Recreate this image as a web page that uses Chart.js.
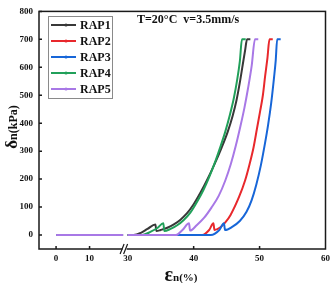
<!DOCTYPE html>
<html>
<head>
<meta charset="utf-8">
<script src="https://cdn.jsdelivr.net/npm/chart.js@4/dist/chart.umd.min.js"></script>
<style>
  body { margin: 0; background: #fff; }
</style>
</head>
<body>
<canvas id="chart" width="334" height="283"></canvas>
<script>
const seriesNames = ['RAP1', 'RAP2', 'RAP3', 'RAP4', 'RAP5'];
const seriesColors = ['#383838', '#e8282c', '#1766d8', '#21a05a', '#a878e6'];

// part of the curves left of the axis break (all at zero)
const leftStrain = [0, 20];
const leftStress = [0, 0];

const strainRAP1 = [30, 30.9, 32, 33, 34.2, 34.35, 35, 36, 37, 38, 39, 40, 41, 42, 43.1, 44.2, 45.15, 45.9, 46.5, 47.0, 47.45, 47.8, 48.1, 48.6];
const stressRAP1 = [0, 0, 8, 22, 38, 14, 18, 26, 38, 55, 78, 110, 150, 195, 250, 310, 368, 425, 482, 545, 610, 660, 700, 700];

const strainRAP2 = [30, 41.3, 42.35, 43.0, 43.15, 44.0, 44.8, 45.6, 46.9, 47.8, 48.5, 49.1, 49.6, 50.1, 50.5, 50.85, 51.2, 51.5, 52.0];
const stressRAP2 = [0, 0, 18, 42, 18, 27, 45, 72, 137, 195, 255, 315, 380, 445, 500, 570, 635, 700, 700];

const strainRAP3 = [30, 42.6, 43.9, 44.6, 44.75, 45.9, 47.0, 48.0, 48.8, 49.5, 50.2, 50.8, 51.3, 51.75, 52.2, 52.45, 52.67, 53.2];
const stressRAP3 = [0, 0, 18, 42, 18, 30, 50, 82, 125, 180, 250, 325, 395, 470, 565, 625, 700, 700];

const strainRAP4 = [30, 32.2, 33.5, 34.5, 35.4, 35.55, 36.5, 37.5, 38.5, 39.5, 40.5, 41.5, 42.4, 43.2, 44.0, 44.8, 45.5, 46.1, 46.6, 47.0, 47.33, 47.9];
const stressRAP4 = [0, 0, 12, 25, 42, 14, 22, 35, 54, 80, 118, 162, 210, 258, 312, 370, 430, 490, 555, 620, 700, 700];

const strainRAP5 = [30, 37.3, 38.3, 39.3, 39.45, 40.5, 41.6, 42.7, 43.8, 44.8, 45.65, 46.4, 47.1, 47.7, 48.25, 48.8, 49.3, 49.8];
const stressRAP5 = [0, 0, 18, 42, 16, 36, 62, 98, 140, 195, 255, 320, 390, 455, 525, 605, 700, 700];

const strains = [strainRAP1, strainRAP2, strainRAP3, strainRAP4, strainRAP5];
const stresses = [stressRAP1, stressRAP2, stressRAP3, stressRAP4, stressRAP5];

const xTickLabels = [0, 10, 30, 40, 50, 60];
const yTicks = [0, 100, 200, 300, 400, 500, 600, 700, 800];

// broken x axis: 0..20 is drawn compressed, 30..60 at full scale
function toAxis(v) {
  return v >= 25 ? v : 19.13 + v * 0.508;
}

const datasets = seriesNames.map((name, i) => {
  const pts = leftStrain.map((s, k) => ({ x: toAxis(s), y: leftStress[k] }));
  pts.push({ x: 29.6, y: null });
  strains[i].forEach((s, k) => pts.push({ x: toAxis(s), y: stresses[i][k] }));
  return {
    label: name,
    data: pts,
    borderColor: seriesColors[i],
    borderWidth: 2,
    pointRadius: 0,
    cubicInterpolationMode: 'monotone',
    spanGaps: false,
    order: 5 - i
  };
});

const serif = '"Liberation Serif", "DejaVu Serif", serif';

const decor = {
  id: 'decor',
  afterDraw(chart) {
    const ctx = chart.ctx;
    const a = chart.chartArea;
    const xs = chart.scales.x;
    const ys = chart.scales.y;
    ctx.save();
    ctx.strokeStyle = '#1a1a1a';
    ctx.lineWidth = 1.5;
    ctx.strokeRect(a.left, a.top, a.right - a.left, a.bottom - a.top);

    // inward ticks
    ctx.beginPath();
    yTicks.forEach(v => {
      const p = ys.getPixelForValue(v);
      ctx.moveTo(a.left, p);
      ctx.lineTo(a.left + 3, p);
    });
    xTickLabels.forEach(v => {
      if (v === 30 || v === 60) return;
      const p = xs.getPixelForValue(toAxis(v));
      ctx.moveTo(p, a.bottom);
      ctx.lineTo(p, a.bottom - 3);
    });
    ctx.stroke();

    // axis break mark
    const bx = xs.getPixelForValue(29.6);
    ctx.fillStyle = '#fff';
    ctx.fillRect(bx - 2.5, a.bottom - 1.5, 4, 3);
    ctx.lineWidth = 1.2;
    ctx.beginPath();
    ctx.moveTo(bx - 5, a.bottom + 5);
    ctx.lineTo(bx - 1, a.bottom - 5);
    ctx.moveTo(bx - 1.5, a.bottom + 5);
    ctx.lineTo(bx + 2.5, a.bottom - 5);
    ctx.stroke();

    // legend
    ctx.strokeStyle = '#8a8a8a';
    ctx.lineWidth = 1;
    ctx.strokeRect(48.5, 16.5, 64, 82);
    ctx.font = 'bold 12px ' + serif;
    ctx.textBaseline = 'middle';
    ctx.textAlign = 'left';
    seriesNames.forEach((name, i) => {
      const ly = 25 + i * 16;
      ctx.strokeStyle = seriesColors[i];
      ctx.lineWidth = 2;
      ctx.beginPath();
      ctx.moveTo(51, ly);
      ctx.lineTo(76, ly);
      ctx.stroke();
      ctx.fillStyle = seriesColors[i];
      ctx.beginPath();
      ctx.arc(66, ly, 1.6, 0, Math.PI * 2);
      ctx.fill();
      ctx.fillStyle = '#111';
      ctx.fillText(name, 80, ly + 0.5);
    });

    // test condition note
    ctx.fillStyle = '#111';
    ctx.font = 'bold 12px ' + serif;
    ctx.fillText('T=20°C  v=3.5mm/s', 137, 20);

    // x title
    ctx.textBaseline = 'alphabetic';
    ctx.font = 'bold 20px ' + serif;
    const eW = ctx.measureText('ε').width;
    ctx.font = 'bold 11px ' + serif;
    const nW = ctx.measureText('n(%)').width;
    let tx = 181 - (eW + nW) / 2;
    ctx.font = 'bold 20px ' + serif;
    ctx.fillText('ε', tx, 281);
    ctx.font = 'bold 11px ' + serif;
    ctx.fillText('n(%)', tx + eW, 281);

    // y title
    ctx.translate(13, 127);
    ctx.rotate(-Math.PI / 2);
    ctx.font = 'bold 17px ' + serif;
    const dW = ctx.measureText('δ').width;
    ctx.font = 'bold 12px ' + serif;
    const kW = ctx.measureText('n(kPa)').width;
    tx = -(dW + kW) / 2;
    ctx.font = 'bold 17px ' + serif;
    ctx.fillText('δ', tx, 4);
    ctx.font = 'bold 12px ' + serif;
    ctx.fillText('n(kPa)', tx + dW, 4);
    ctx.restore();
  }
};

new Chart(document.getElementById('chart'), {
  type: 'line',
  data: { datasets },
  options: {
    responsive: false,
    animation: false,
    layout: { padding: { top: 5, right: 8, left: 0, bottom: 0 } },
    plugins: {
      legend: { display: false },
      tooltip: { enabled: false }
    },
    scales: {
      x: {
        type: 'linear',
        min: 16.54,
        max: 60,
        afterBuildTicks: s => { s.ticks = xTickLabels.map(v => ({ value: toAxis(v) })); },
        afterFit: s => { s.height = 34; },
        grid: { display: false, drawTicks: false },
        border: { display: false },
        ticks: {
          padding: 4,
          maxRotation: 0,
          autoSkip: false,
          color: '#111',
          font: { family: serif, size: 9, weight: 'bold' },
          callback: (val, idx) => String(xTickLabels[idx])
        }
      },
      y: {
        min: -50,
        max: 800,
        afterBuildTicks: s => { s.ticks = yTicks.map(v => ({ value: v })); },
        afterFit: s => { s.width = 39; },
        grid: { display: false, drawTicks: false },
        border: { display: false },
        ticks: {
          padding: 6,
          color: '#111',
          font: { family: serif, size: 9, weight: 'bold' }
        }
      }
    }
  },
  plugins: [decor]
});
</script>
</body>
</html>
